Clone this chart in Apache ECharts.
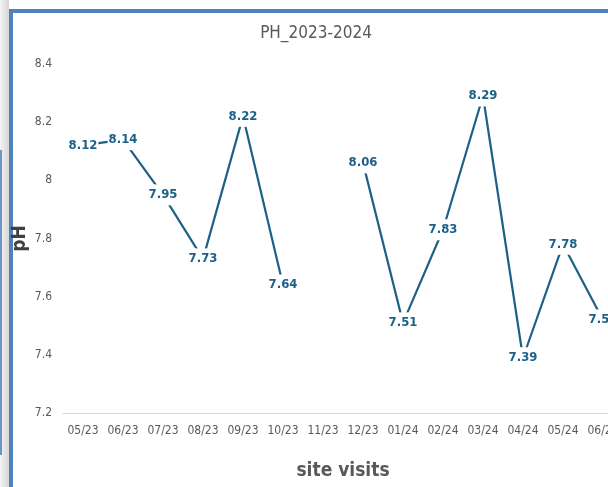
<!DOCTYPE html>
<html>
<head>
<meta charset="utf-8">
<script src="https://cdn.jsdelivr.net/npm/echarts@6/dist/echarts.min.js"></script>
<style>
  html, body { margin: 0; padding: 0; background: #fff; overflow: hidden; }
  #chart { width: 624px; height: 487px; }
</style>
</head>
<body>
<div id="chart"></div>
<script>
const categories = ['05/23', '06/23', '07/23', '08/23', '09/23', '10/23', '11/23',
  '12/23', '01/24', '02/24', '03/24', '04/24', '05/24', '06/24'];
const phValues = [8.12, 8.14, 7.95, 7.73, 8.22, 7.64, null,
  8.06, 7.51, 7.83, 8.29, 7.39, 7.78, 7.52];
const yTicks = { min: 7.2, max: 8.4, step: 0.2 };

const font = '"DejaVu Sans Condensed", "Roboto", sans-serif';
const lineColor = '#1d6087';

const chart = echarts.init(document.getElementById('chart'));
chart.setOption({
  animation: false,
  backgroundColor: '#fff',
  title: {
    text: 'PH_2023-2024',
    left: 311,
    top: 20,
    textAlign: 'center',
    textStyle: { fontFamily: font, fontSize: 17, fontWeight: 'normal', color: '#595959' }
  },
  graphic: [
    // window shading on the left
    { type: 'rect', shape: { x: 0, y: 0, width: 9, height: 487 },
      style: { fill: new echarts.graphic.LinearGradient(0, 0, 1, 0, [
        { offset: 0, color: '#f4f4f4' }, { offset: 1, color: '#d6d6d6' }]) } },
    { type: 'rect', shape: { x: 0, y: 150, width: 2, height: 305 }, style: { fill: '#6f95c6' } },
    // blue frame
    { type: 'rect', shape: { x: 9, y: 9, width: 4, height: 478 }, style: { fill: '#4f81bd' } },
    { type: 'rect', shape: { x: 9, y: 9, width: 615, height: 4 }, style: { fill: '#4f81bd' } }
  ],
  grid: { left: 63, top: 64, right: 1, bottom: 74, containLabel: false, outerBoundsMode: 'none' },
  xAxis: {
    type: 'category',
    data: categories,
    boundaryGap: true,
    name: 'site visits',
    nameLocation: 'middle',
    nameGap: 49,
    nameTextStyle: { fontFamily: font, fontSize: 19, fontWeight: 'bold', color: '#595959' },
    axisLine: { lineStyle: { color: '#d9d9d9', width: 1 } },
    axisTick: { show: false },
    axisLabel: { interval: 0, fontFamily: font, fontSize: 12, color: '#595959', margin: 12 }
  },
  yAxis: {
    type: 'value',
    min: yTicks.min,
    max: yTicks.max,
    interval: yTicks.step,
    name: 'pH',
    nameLocation: 'middle',
    nameGap: 33,
    nameRotate: 90,
    nameMoveOverlap: false,
    nameTextStyle: { fontFamily: font, fontSize: 19, fontWeight: 'bold', color: '#404040' },
    axisLine: { show: false },
    axisTick: { show: false },
    splitLine: { show: false },
    axisLabel: {
      fontFamily: font, fontSize: 12, color: '#595959', margin: 11,
      formatter: v => String(Math.round(v * 10) / 10)
    }
  },
  series: [{
    type: 'line',
    data: phValues,
    connectNulls: false,
    showSymbol: true,
    symbol: 'circle',
    symbolSize: 1,
    itemStyle: { color: lineColor, borderWidth: 0 },
    lineStyle: { color: lineColor, width: 2.2 },
    label: {
      show: true,
      position: 'inside',
      formatter: p => p.value,
      fontFamily: font,
      fontSize: 13,
      fontWeight: 'bold',
      color: lineColor,
      backgroundColor: '#fff',
      padding: [4, 1]
    }
  }]
});
</script>
</body>
</html>
